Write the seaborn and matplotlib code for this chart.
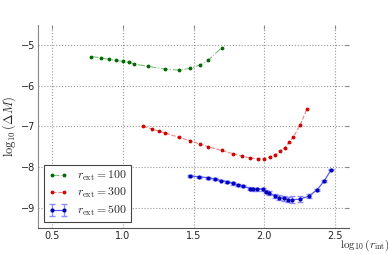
import numpy as np
import pandas as pd
import matplotlib
matplotlib.use("Agg")
import matplotlib.pyplot as plt
import seaborn as sns

# r_ext = 100
x100 = [0.778, 0.845, 0.903, 0.954, 1.0, 1.041, 1.079, 1.176, 1.301, 1.398, 1.477, 1.544, 1.602, 1.699]
y100 = [-5.28, -5.31, -5.35, -5.375, -5.40, -5.42, -5.46, -5.52, -5.59, -5.61, -5.57, -5.49, -5.375, -5.06]

# r_ext = 300
x300 = [1.146, 1.204, 1.255, 1.301, 1.398, 1.477, 1.544, 1.602, 1.699, 1.778, 1.845,
        1.903, 1.954, 2.0, 2.041, 2.079, 2.114, 2.146, 2.176, 2.204, 2.255, 2.301]
y300 = [-6.99, -7.06, -7.115, -7.16, -7.27, -7.35, -7.43, -7.495, -7.59, -7.67, -7.73,
        -7.78, -7.79, -7.79, -7.745, -7.69, -7.605, -7.52, -7.39, -7.27, -6.96, -6.58]

# r_ext = 500 (with error bars)
x500 = [1.477, 1.542, 1.60, 1.653, 1.697, 1.737, 1.777, 1.815, 1.847, 1.90, 1.923, 1.949, 1.995,
        2.016, 2.037, 2.075, 2.106, 2.143, 2.171, 2.199, 2.251, 2.317, 2.373, 2.425, 2.474]
y500 = [-8.22, -8.24, -8.26, -8.295, -8.33, -8.36, -8.40, -8.435, -8.46, -8.53, -8.54, -8.54, -8.55,
        -8.60, -8.64, -8.71, -8.75, -8.77, -8.80, -8.80, -8.79, -8.71, -8.56, -8.34, -8.06]
e500 = [0.02, 0.02, 0.02, 0.02, 0.02, 0.025, 0.03, 0.03, 0.03, 0.035, 0.035, 0.035, 0.04,
        0.04, 0.05, 0.05, 0.06, 0.07, 0.07, 0.08, 0.07, 0.04, 0.03, 0.03, 0.02]

xticks = [0.5, 1.0, 1.5, 2.0, 2.5]
yticks = [-9, -8, -7, -6, -5]

sns.set_style("white")
plt.rcParams['font.family'] = ['DejaVu Sans']
plt.rcParams['mathtext.fontset'] = 'cm'

fig = plt.figure(figsize=(3.88, 2.54), dpi=100)
ax = fig.add_axes([0.098, 0.102, 0.8015, 0.80])

d100 = pd.DataFrame({'x': x100, 'y': y100})
d300 = pd.DataFrame({'x': x300, 'y': y300})

ms = 2.0
sns.lineplot(data=d100, x='x', y='y', ax=ax, sort=False, color='#7fc47f',
             linestyle='-.', linewidth=0.8, marker='o', markersize=ms,
             markerfacecolor='#006400', markeredgecolor='#006400',
             label=r'$r_{\rm ext}=100$')
sns.lineplot(data=d300, x='x', y='y', ax=ax, sort=False, color='#f58080',
             linestyle='--', linewidth=0.8, marker='o', markersize=ms,
             markerfacecolor='#cc0000', markeredgecolor='#cc0000',
             label=r'$r_{\rm ext}=300$')
ax.errorbar(x500, y500, yerr=e500, color='#5a5aff', ecolor='#8c8cff', linewidth=0.9,
            elinewidth=0.9, capsize=2, marker='o', markersize=ms,
            markerfacecolor='#0000bb', markeredgecolor='#0000bb',
            label=r'$r_{\rm ext}=500$')

ax.set_xlim(0.4, 2.6)
ax.set_ylim(-9.5, -4.5)
ax.set_xticks(xticks)
ax.set_yticks(yticks)
ax.set_xticklabels(['0.5', '1.0', '1.5', '2.0', '2.5'])
ax.grid(True, linestyle=':', color='#999999', linewidth=0.8)
ax.tick_params(labelsize=7, direction='in', length=3, color='#888888',
               top=True, right=True, pad=2)
for side in ['top', 'right']:
    ax.spines[side].set_visible(False)
ax.spines['left'].set_color('#888888')
ax.spines['bottom'].set_color('#555555')

ax.set_ylabel(r'$\log_{10}(\Delta M)$', fontsize=9, labelpad=2)
ax.set_xlabel(r'$\log_{10}(r_{\rm int})$', fontsize=8, va='bottom')
ax.xaxis.set_label_coords(1.05, -0.125)

leg = ax.legend(loc='lower left', numpoints=2, fontsize=8.5, fancybox=False,
                framealpha=1, edgecolor='#444444', handlelength=1.6,
                borderpad=0.35, labelspacing=0.3, handletextpad=0.8,
                borderaxespad=0, bbox_to_anchor=(0.02, 0.03))
leg.get_frame().set_linewidth(0.8)

fig.savefig('out.png', dpi=100)
